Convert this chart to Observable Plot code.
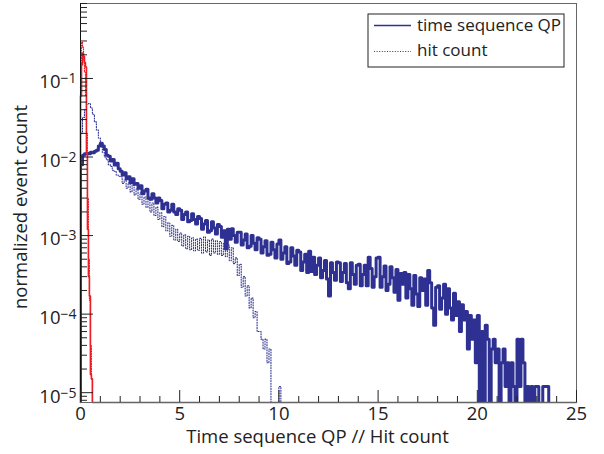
<!DOCTYPE html>
<html><head><meta charset="utf-8">
<script src="https://cdn.jsdelivr.net/npm/d3@7"></script>
<script src="https://cdn.jsdelivr.net/npm/@observablehq/plot@0.6"></script>
<style>body{margin:0;background:#fff} #chart svg{display:block}</style>
</head><body><div id="chart"></div>
<script>
// ---- data ----
const binWidth = 0.1;          // QP and hit-count histogram bin width
const qpValues = [
  8.0e-3, 1.05e-2, 1.1e-2, 1.12e-2, 1.1e-2, 1.15e-2, 1.13e-2, 1.18e-2, 1.22e-2, 1.38e-2,
  1.5e-2, 1.38e-2, 1.25e-2, 1.05e-2, 1.02e-2, 8.9e-3, 9.3e-3, 7.9e-3, 8.3e-3, 7.1e-3,
  6.6e-3, 5.9e-3, 6.3e-3, 5.3e-3, 5.6e-3, 4.7e-3, 5.3e-3, 4.5e-3, 4.6e-3, 4.0e-3,
  4.3e-3, 3.4e-3, 3.7e-3, 3.9e-3, 3.0e-3, 2.9e-3, 3.4e-3, 3.0e-3, 2.6e-3, 3.0e-3,
  2.8e-3, 2.2e-3, 2.5e-3, 2.6e-3, 2.0e-3, 2.1e-3, 2.5e-3, 2.0e-3, 1.85e-3, 2.2e-3,
  2.1e-3, 1.6e-3, 1.85e-3, 2.0e-3, 1.5e-3, 1.55e-3, 1.9e-3, 1.6e-3, 1.4e-3, 1.75e-3,
  1.65e-3, 1.2e-3, 1.4e-3, 1.55e-3, 1.1e-3, 1.15e-3, 1.5e-3, 1.25e-3, 1.05e-3, 1.38e-3,
  1.3e-3, 9.5e-4, 1.15e-3, 6.8e-4, 1.2e-3, 9.0e-4, 1.22e-3, 1.0e-3, 8.2e-4, 1.1e-3,
  1.1e-3, 7.6e-4, 8.8e-4, 1.05e-3, 7.0e-4, 7.3e-4, 1.0e-3, 8.0e-4, 6.6e-4, 9.4e-4,
  9.0e-4, 6.0e-4, 7.2e-4, 8.6e-4, 5.6e-4, 5.8e-4, 8.2e-4, 6.6e-4, 5.2e-4, 7.8e-4,
  8.8e-4, 5.0e-4, 6.0e-4, 7.2e-4, 4.4e-4, 4.6e-4, 7.0e-4, 5.5e-4, 4.2e-4, 6.5e-4,
  6.2e-4, 3.6e-4, 4.6e-4, 5.8e-4, 3.4e-4, 6.3e-4, 3.5e-4, 5.3e-4, 3.2e-4, 4.2e-4,
  5.2e-4, 2.9e-4, 3.6e-4, 4.8e-4, 2.8e-4, 1.7e-4, 4.5e-4, 3.4e-4, 2.7e-4, 4.6e-4,
  4.5e-4, 2.6e-4, 3.4e-4, 4.4e-4, 2.5e-4, 2.1e-4, 4.5e-4, 3.2e-4, 2.4e-4, 4.2e-4,
  4.3e-4, 2.3e-4, 3.2e-4, 4.2e-4, 2.3e-4, 5.3e-4, 3.8e-4, 2.2e-4, 3.0e-4, 5.2e-4,
  5.3e-4, 2.2e-4, 3.0e-4, 4.1e-4, 2.0e-4, 2.4e-4, 4.0e-4, 2.9e-4, 1.9e-4, 3.7e-4,
  1.5e-4, 3.3e-4, 2.4e-4, 3.4e-4, 1.6e-4, 3.2e-4, 2.1e-4, 1.3e-4, 3.1e-4, 1.8e-4,
  1.25e-4, 2.9e-4, 2.0e-4, 2.8e-4, 1.3e-4, 3.6e-4, 2.5e-4, 1.2e-4, 7.2e-5, 2.2e-4,
  2.3e-4, 1.15e-4, 1.6e-4, 2.4e-4, 1.0e-4, 2.1e-4, 1.2e-4, 8.4e-5, 1.85e-4, 9.6e-5,
  1.44e-4, 6.0e-5, 1.32e-4, 8.4e-5, 1.08e-4, 3.6e-5, 9.6e-5, 4.8e-5, 8.4e-5, 2.4e-5,
  9.6e-5, 0, 6.0e-5, 0, 7.2e-5, 4.8e-5, 0, 3.6e-5, 4.8e-5, 2.4e-5,
  3.6e-5, 0, 2.4e-5, 3.6e-5, 1.2e-5, 2.4e-5, 0, 2.4e-5, 1.2e-5, 0,
  4.8e-5, 1.2e-5, 4.8e-5, 2.4e-5, 0, 1.2e-5, 0, 1.2e-5, 0, 1.2e-5,
  1.2e-5, 0, 0, 1.2e-5, 1.2e-5, 1.2e-5, 0, 0, 0, 0,
  0, 0, 0, 0, 0, 0, 0, 0, 0, 0
];
const hitValues = [
  2.0e-2, 3.2e-2, 4.0e-2, 4.7e-2, 4.8e-2, 4.2e-2, 3.5e-2, 2.8e-2, 2.2e-2, 1.75e-2,
  1.4e-2, 1.15e-2, 1.0e-2, 9.2e-3, 8.0e-3, 7.6e-3, 6.8e-3, 6.6e-3, 5.9e-3, 5.7e-3,
  5.6e-3, 4.6e-3, 5.1e-3, 4.0e-3, 4.7e-3, 3.6e-3, 4.4e-3, 3.3e-3, 3.9e-3, 2.9e-3,
  3.5e-3, 2.5e-3, 3.1e-3, 2.3e-3, 2.9e-3, 2.0e-3, 2.6e-3, 1.8e-3, 2.3e-3, 1.6e-3,
  1.95e-3, 1.3e-3, 1.75e-3, 1.15e-3, 1.45e-3, 9.8e-4, 1.35e-3, 8.8e-4, 1.2e-3, 8.4e-4,
  1.08e-3, 7.4e-4, 1.02e-3, 6.8e-4, 9.8e-4, 6.6e-4, 9.4e-4, 6.4e-4, 9.0e-4, 6.5e-4,
  9.2e-4, 6.0e-4, 9.6e-4, 6.2e-4, 8.8e-4, 5.6e-4, 9.0e-4, 6.0e-4, 8.6e-4, 5.8e-4,
  8.4e-4, 5.6e-4, 8.0e-4, 5.4e-4, 7.6e-4, 4.8e-4, 7.0e-4, 4.4e-4, 5.2e-4, 3.1e-4,
  4.3e-4, 2.2e-4, 3.0e-4, 1.7e-4, 2.3e-4, 1.2e-4, 1.6e-4, 9.0e-5, 1.08e-4, 6.0e-5,
  6.0e-5, 4.8e-5, 3.6e-5, 4.8e-5, 2.4e-5, 3.6e-5, 0, 0, 0, 0,
  1.2e-5, 0
];
const redBinWidth = 0.05;
const redSolidValues  = [6.0e-2, 1.5e-1, 2.1e-1, 1.9e-1, 1.6e-1, 1.4e-1, 1.1e-2, 1.2e-3, 3.0e-4, 1.7e-4, 1.7e-5, 1.5e-5];
const redDottedValues = [8.0e-2, 2.9e-1, 2.5e-1, 1.7e-1, 1.2e-1, 6.0e-2, 2.0e-2, 3.0e-3, 5.0e-4, 1.5e-4, 4.0e-5, 1.5e-5];

const xTicks = [0, 5, 10, 15, 20, 25];
const yTicks = [1e-5, 1e-4, 1e-3, 1e-2, 1e-1];
const xDomain = [0, 25];
const yDomain = [7.5e-6, 0.9];
const seriesNames = ["time sequence QP", "hit count"];
const xTitle = "Time sequence QP // Hit count";
const yTitle = "normalized event count";

// ---- helpers ----
function steps(values, w, floor, xEnd) {
  const pts = [{x: 0, y: floor}];
  values.forEach((v, i) => pts.push({x: i * w, y: v > 0 ? v : floor}));
  const last = values[values.length - 1];
  const edge = values.length * w;
  pts.push({x: edge, y: last > 0 ? last : floor});
  pts.push({x: edge, y: floor});
  if (xEnd !== undefined && xEnd > edge) pts.push({x: xEnd, y: floor});
  return pts;
}
const hidden = 1e-9;
const qpPts = steps(qpValues, binWidth, hidden);
const hitPts = steps(hitValues, binWidth, hidden);
const redSolidPts = steps(redSolidValues, redBinWidth, yDomain[0], xDomain[1]);
const redDottedPts = steps(redDottedValues, redBinWidth, yDomain[0], xDomain[1]);

const xMinor = d3.range(xDomain[0], xDomain[1] + 1e-9, 1).filter(v => v % 5 !== 0);
const yMinor = [];
for (let e = -6; e <= 0; e++) for (let m = 2; m <= 9; m++) {
  const v = m * Math.pow(10, e);
  if (v >= yDomain[0] && v <= yDomain[1]) yMinor.push(v);
}

const W = 604, H = 454;
const mL = 80, mR = 28, mT = 3, mB = 52;
const pw = W - mL - mR, ph = H - mT - mB;

const navy = "#2e3192", red = "#ed1c24";
const font = "'Open Sans', 'Noto Sans', sans-serif";

const chart = Plot.plot({
  width: W, height: H,
  marginLeft: mL, marginRight: mR, marginTop: mT, marginBottom: mB,
  style: {fontFamily: font, fontSize: "18.5px", color: "#222", background: "white"},
  x: {domain: xDomain, axis: null},
  y: {type: "log", domain: yDomain, axis: null},
  marks: [
    Plot.line(hitPts, {x: "x", y: "y", curve: "step-after", stroke: navy, strokeWidth: 1.1, strokeDasharray: "1,1.6", clip: true}),
    Plot.line(qpPts, {x: "x", y: "y", curve: "step-after", stroke: navy, strokeWidth: 3, clip: true}),
    Plot.line(redDottedPts, {x: "x", y: "y", curve: "step-after", stroke: red, strokeWidth: 1.2, strokeDasharray: "1,1.5"}),
    Plot.line(redSolidPts, {x: "x", y: "y", curve: "step-after", stroke: red, strokeWidth: 1.6}),
    Plot.frame({stroke: "#666"}),
    Plot.ruleX([xDomain[0]], {stroke: "#111"}),
    Plot.tickX(xTicks, {x: d => d, insetTop: ph - 12, stroke: "#222"}),
    Plot.tickX(xMinor, {x: d => d, insetTop: ph - 6, stroke: "#222"}),
    Plot.tickY(yTicks, {y: d => d, insetRight: pw - 13, stroke: "#222"}),
    Plot.tickY(yMinor, {y: d => d, insetRight: pw - 7, stroke: "#222"}),
    Plot.axisX(xTicks, {tickSize: 0, tickPadding: 4, fontSize: 18.5, label: null, tickFormat: d => String(d)}),
    Plot.axisY(yTicks, {tickSize: 0, tickPadding: 4, fontSize: 18.5, label: null, dy: 4,
      tickFormat: d => "10^" + Math.round(Math.log10(d))}),
    Plot.text([xTitle], {text: d => d, frameAnchor: "bottom", dy: 40, dx: -11, fontSize: 18.5, textAnchor: "middle", fill: "#222"}),
    Plot.text([yTitle], {text: d => d, frameAnchor: "left", rotate: -90, dx: -59, dy: 4, fontSize: 18.5, textAnchor: "middle", fill: "#222"})
  ]
});

// superscript exponents on y tick labels
d3.select(chart).selectAll('[aria-label="y-axis tick label"] text').each(function() {
  const s = this.textContent;
  const parts = s.split("^");
  if (parts.length !== 2) return;
  const t = d3.select(this);
  t.text(null);
  t.append("tspan").text(parts[0]);
  t.append("tspan").attr("dy", "-5").attr("font-size", 14).text(parts[1].replace("-", "\u2212"));
});

// legend (ROOT-style box)
const svg = d3.select(chart);
const lg = svg.append("g").attr("font-family", font).attr("font-size", 17).attr("fill", "#222")
  .attr("text-anchor", "start");
lg.append("rect").attr("x", 368).attr("y", 14).attr("width", 196).attr("height", 53)
  .attr("fill", "white").attr("stroke", "#222").attr("stroke-width", 1);
lg.append("line").attr("x1", 374).attr("x2", 411).attr("y1", 25.5).attr("y2", 25.5)
  .attr("stroke", navy).attr("stroke-width", 1.6);
lg.append("line").attr("x1", 374).attr("x2", 411).attr("y1", 51.5).attr("y2", 51.5)
  .attr("stroke", navy).attr("stroke-width", 1.1).attr("stroke-dasharray", "1,1.6");
lg.append("text").attr("x", 417).attr("y", 30.5).attr("text-anchor", "start").text(seriesNames[0]);
lg.append("text").attr("x", 417).attr("y", 56).attr("text-anchor", "start").text(seriesNames[1]);

document.getElementById("chart").appendChild(chart);
</script>
</body></html>
